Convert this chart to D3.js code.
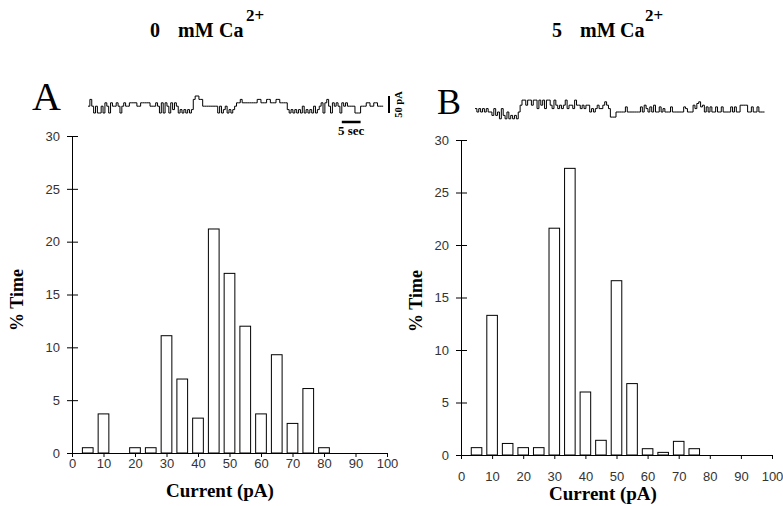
<!DOCTYPE html>
<html>
<head>
<meta charset="utf-8">
<script src="https://cdn.jsdelivr.net/npm/d3@7"></script>
<style>
  body { margin: 0; background: #fff; }
  svg text { font-family: 'Liberation Serif', 'Times New Roman', serif; fill: #000; }
  .tick text { font-family: 'Liberation Sans', Arial, sans-serif; font-size: 13px; fill: #333; }
  .tick line, .domain { stroke: #000; stroke-width: 1; }
  .bar { fill: #fff; stroke: #000; stroke-width: 1; }
  .trace { fill: none; stroke: #000; stroke-width: 1; }
  .bold { font-weight: bold; }
</style>
</head>
<body>
<svg width="783" height="506"></svg>
<script>
const svg = d3.select('svg');

// histogram bins (pA) and % time
const binCenters = [5, 10, 15, 20, 25, 30, 35, 40, 45, 50, 55, 60, 65, 70, 75, 80];
const timeA = [0.5, 3.7, 0, 0.5, 0.5, 11.1, 7.0, 3.3, 21.2, 17.0, 12.0, 3.7, 9.3, 2.8, 6.1, 0.5];
const timeB = [0.7, 13.3, 1.1, 0.7, 0.7, 21.6, 27.3, 6.0, 1.4, 16.6, 6.8, 0.6, 0.25, 1.3, 0.6, 0];

const xTicks = [0, 10, 20, 30, 40, 50, 60, 70, 80, 90, 100];
const yTicks = [0, 5, 10, 15, 20, 25, 30];

// single-channel traces, current (pA) sampled every 0.5 sec
const traceA = [20,40,20,0,20,0,
  0,20,0,30,20,0,30,20,
  20,30,20,0,20,30,20,20,30,30,30,30,20,20,
  30,30,30,30,30,20,20,
  20,30,20,0,30,0,30,20,0,30,10,30,20,0,
  10,0,10,0,10,0,10,
  40,50,50,40,40,
  20,20,20,20,20,20,20,
  20,0,20,0,10,20,0,10,0,
  10,20,30,30,
  40,30,30,30,30,30,30,
  30,30,40,40,30,30,30,40,40,30,30,30,40,40,30,30,30,30,
  10,0,10,0,10,0,10,0,20,0,10,0,10,0,20,0,10,
  20,30,0,30,40,20,0,30,20,30,20,0,30,20,30,20,20,
  20,20,0,0,0,20,
  20,20,30,30,20,20,30,30,20,20,20];
const traceB = [10,0,10,0,10,0,10,0,
  0,-10,10,-10,0,-20,10,-10,-20,0,-20,-10,-20,-10,-20,0,
  20,35,35,20,35,35,20,35,
  35,10,35,20,35,10,35,35,20,10,35,20,10,20,10,20,35,10,20,20,10,35,20,20,10,20,10,20,20,
  0,10,0,10,20,10,10,
  20,30,20,10,
  -15,-15,-15,
  0,0,0,0,0,15,0,0,0,0,0,0,0,
  15,0,20,10,0,15,0,20,0,0,15,0,10,0,0,0,15,
  0,0,0,0,0,0,15,10,0,0,0,
  20,10,25,30,15,20,0,15,0,15,0,0,15,0,0,15,0,0,0,0,15,0,15,0,0,
  20,20,20,20,0,0,15,0,0,15,0,0,0];

const panels = [
  { letter: 'A', conc: '0', data: timeA, trace: traceA,
    x0: 72, x1: 387, y0: 453, y1: 136, xLabelPad: 2,
    xLabelX: 220, xLabelY: 497, yLabelX: 23, yLabelY: 300,
    letterX: 32, letterY: 110, letterSize: 40,
    traceX: 88, traceBase: 113,
    title: { n: 150, mM: 178, ca: 219, sup: 246 } },
  { letter: 'B', conc: '5', data: timeB, trace: traceB,
    x0: 461, x1: 772, y0: 455, y1: 140, xLabelPad: 13,
    xLabelX: 603, xLabelY: 500, yLabelX: 422, yLabelY: 301,
    letterX: 437, letterY: 114, letterSize: 36,
    traceX: 475, traceBase: 112,
    title: { n: 552, mM: 580, ca: 620, sup: 645 } }
];

const pxPerSample = 1.88;
const barWidth = 3.4; // pA

const render = p => {
  const xScale = d3.scaleLinear().domain([0, 100]).range([p.x0, p.x1]);
  const yScale = d3.scaleLinear().domain([0, 30]).range([p.y0, p.y1]);

  const bars = binCenters.map((c, i) => ({ c, v: p.data[i] })).filter(d => d.v > 0);
  svg.append('g').selectAll('rect').data(bars).enter().append('rect')
    .attr('class', 'bar')
    .attr('x', d => xScale(d.c - barWidth / 2))
    .attr('width', d => xScale(d.c + barWidth / 2) - xScale(d.c - barWidth / 2))
    .attr('y', d => yScale(d.v))
    .attr('height', d => yScale(0) - yScale(d.v));

  const xAxis = d3.axisBottom(xScale)
    .tickValues(xTicks)
    .tickSize(4)
    .tickSizeOuter(0)
    .tickPadding(p.xLabelPad);
  svg.append('g').attr('transform', `translate(0, ${p.y0})`).call(xAxis);

  const yAxis = d3.axisLeft(yScale)
    .tickValues(yTicks)
    .tickSize(5)
    .tickSizeOuter(0)
    .tickPadding(7);
  const yG = svg.append('g').attr('transform', `translate(${p.x0}, 0)`).call(yAxis);
  yG.selectAll('.tick line').attr('x2', -5).attr('x1', 6); // ticks cross the axis

  svg.append('text')
    .attr('class', 'bold')
    .attr('x', p.xLabelX).attr('y', p.xLabelY)
    .attr('text-anchor', 'middle')
    .style('font-size', '19px')
    .text('Current (pA)');

  svg.append('text')
    .attr('class', 'bold')
    .attr('transform', `translate(${p.yLabelX}, ${p.yLabelY}) rotate(-90)`)
    .attr('text-anchor', 'middle')
    .style('font-size', '18px')
    .text('% Time');

  svg.append('text')
    .attr('x', p.letterX).attr('y', p.letterY)
    .style('font-size', p.letterSize + 'px')
    .text(p.letter);

  // title
  const t = svg.append('text').attr('class', 'bold').style('font-size', '20px');
  t.append('tspan').attr('x', p.title.n).attr('y', 37).text(p.conc);
  t.append('tspan').attr('x', p.title.mM).attr('y', 37).text('mM');
  t.append('tspan').attr('x', p.title.ca).attr('y', 37).text('Ca');
  t.append('tspan').attr('x', p.title.sup).attr('y', 21).style('font-size', '17px').text('2+');

  // trace
  const n = p.trace.length;
  const xTrace = d3.scaleLinear().domain([0, n]).range([p.traceX, p.traceX + n * pxPerSample]);
  const yTrace = d3.scaleLinear().domain([0, 50]).range([p.traceBase, p.traceBase - 17]);
  const pts = p.trace.map((v, i) => [i, v]).concat([[n, p.trace[n - 1]]]);
  const line = d3.line()
    .x(d => xTrace(d[0]))
    .y(d => yTrace(d[1]))
    .curve(d3.curveStepAfter);
  svg.append('path').attr('class', 'trace').attr('d', line(pts));

  return { xTrace, yTrace };
};

const scalesA = render(panels[0]);
render(panels[1]);

// scale bars on trace A
const { xTrace, yTrace } = scalesA;
svg.append('line')
  .attr('x1', 389).attr('x2', 389)
  .attr('y1', yTrace(0)).attr('y2', yTrace(50))
  .attr('stroke', '#000').attr('stroke-width', 2);
svg.append('text')
  .attr('class', 'bold')
  .attr('transform', `translate(402, ${(yTrace(0) + yTrace(50)) / 2}) rotate(-90)`)
  .attr('text-anchor', 'middle')
  .style('font-size', '10.5px')
  .text('50 pA');
svg.append('line')
  .attr('x1', xTrace(135)).attr('x2', xTrace(145))
  .attr('y1', 122).attr('y2', 122)
  .attr('stroke', '#000').attr('stroke-width', 2.5);
svg.append('text')
  .attr('class', 'bold')
  .attr('x', (xTrace(135) + xTrace(145)) / 2).attr('y', 135)
  .attr('text-anchor', 'middle')
  .style('font-size', '13px')
  .text('5 sec');
</script>
</body>
</html>
